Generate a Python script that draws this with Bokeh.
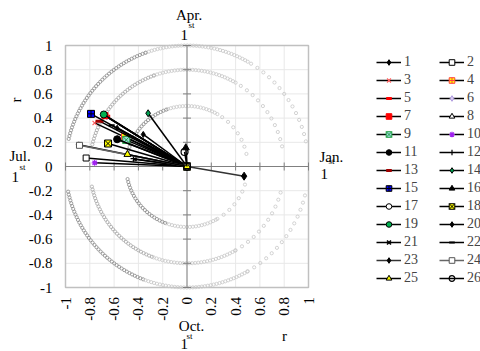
import numpy as np
from bokeh.plotting import figure
from bokeh.models import Legend, LegendItem, Range1d
from bokeh.core.properties import value
from bokeh.embed import file_html
from bokeh.resources import INLINE

# ---------------- data ----------------
series = [str(i) for i in range(1, 27)]
x_start = [0.0] * 26
y_start = [0.0] * 26
x_end = [-0.36, -0.83, -0.76, -0.51, -0.665, -0.66, -0.675, -0.57, -0.50, -0.76,
         -0.575, -0.44, -0.72, -0.32, -0.79, -0.01, -0.89, -0.65, -0.685, -0.575,
         -0.43, -0.62, 0.47, -0.885, -0.49, -0.02]
y_end = [0.265, 0.07, 0.36, 0.245, 0.415, 0.41, 0.42, 0.225, 0.22, 0.03,
         0.225, 0.065, 0.375, 0.44, 0.435, 0.155, 0.18, 0.19, 0.43, 0.32,
         0.06, 0.34, -0.08, 0.175, 0.10, 0.12]
tick_values = [-1, -0.8, -0.6, -0.4, -0.2, 0, 0.2, 0.4, 0.6, 0.8, 1]
tick_labels = ["-1", "-0.8", "-0.6", "-0.4", "-0.2", "0", "0.2", "0.4", "0.6", "0.8", "1"]
ring_radii = [0.5, 0.8, 1.0]
# arcs: start deg, end deg, spacing class, tone class
arc_start = [12, 60, 110, 192, 250, 300]
arc_end = [60, 110, 168, 250, 300, 348]
arc_dense = [False, True, True, True, True, False]
arc_dark = [False, False, True, True, False, False]

# ---------------- styles ----------------
mk = ["diamond", "square", "x", "square_cross", "dash", "diamond", "square", "triangle",
      "square_x", "asterisk", "circle", "cross", "dash", "diamond", "square_cross",
      "triangle", "circle", "square_x", "circle", "diamond", "x", "dash", "diamond",
      "square", "triangle", "circle"]
mk_size = [6, 6, 6, 7, 8, 6, 6, 6, 7, 6, 7, 6, 8, 7, 7, 7, 5, 7, 7, 5, 5, 6, 8, 6, 7, 7]
mk_fill = ["black", "white", None, "#ffff00", "red", "#d9ccf2", "red", "white",
           "#9fd8e0", None, "black", None, "#a00000", "#00a050", "#0000ff", "black",
           "white", "#ffff00", "#00b050", "black", None, None, "black", "white",
           "#ffff00", None]
mk_line = ["black", "black", "#ff6060", "#ff4040", "red", "#b09ce0", "red", "black",
           "#20a040", "#a020f0", "black", "black", "#a00000", "black", "black", "black",
           "black", "black", "black", "black", "black", "black", "black", "#555555",
           "black", "black"]
mk_lw = [1, 1, 1.2, 1, 3, 1, 1, 1, 1, 1.2, 1, 1.2, 3, 1, 1, 1, 1, 1, 1, 1, 1.6, 2, 1, 1, 1, 1.2]
ln_color = ["black"] * 22 + ["#333333", "#666666", "black", "black"]

FONT = "Liberation Serif"
W, H = 480, 351
PX_X0, PX_XS = 186.5, 121.5   # pixel of x=0, pixels per unit
PX_Y0, PX_YS = 166.0, 121.0


def dxp(px):
    return (px - PX_X0) / PX_XS


def dyp(py):
    return (PX_Y0 - py) / PX_YS


p = figure(width=W, height=H, x_range=Range1d(dxp(0), dxp(W)), y_range=Range1d(dyp(H), dyp(0)),
           output_backend="svg", toolbar_location=None,
           min_border_left=0, min_border_right=0, min_border_top=0, min_border_bottom=0,
           x_axis_location=None, y_axis_location=None)
p.background_fill_color = "white"
p.border_fill_color = "white"
p.outline_line_color = None
p.grid.visible = False

lo, hi = tick_values[0], tick_values[-1]
# grid
p.segment(x0=tick_values, y0=[lo] * 11, x1=tick_values, y1=[hi] * 11,
          line_color="#e8e8e8", line_width=1)
p.segment(x0=[lo] * 11, y0=tick_values, x1=[hi] * 11, y1=tick_values,
          line_color="#e8e8e8", line_width=1)
# frame
p.quad(left=[lo], right=[hi], bottom=[lo], top=[hi], fill_color=None,
       line_color="#c0c0c0", line_width=1.5)

# rings of small dots
for r in ring_radii:
    for a0, a1, dense, dark in zip(arc_start, arc_end, arc_dense, arc_dark):
        step_px = 3.0 if dense else 7.5
        step = np.degrees(step_px / (121.0 * r))
        ang = np.radians(np.arange(a0, a1 + 0.01, step))
        if dark:
            col = "#8c8c8c" if r != 0.8 else "#a8a8a8"
        else:
            col = "#c8c8c8"
        p.scatter(r * np.cos(ang), r * np.sin(ang), marker="circle", size=3.2,
                  fill_color=None, line_color=col, line_width=0.8)

# zero axes with ticks
p.segment(x0=[lo, 0], y0=[0, lo], x1=[hi, 0], y1=[0, hi], line_color="#808080", line_width=1)
p.scatter(tick_values, [0] * 11, marker="dash", angle=np.pi / 2, size=8,
          line_color="#808080", line_width=1)
p.scatter([0] * 11, tick_values, marker="dash", size=8, line_color="#808080", line_width=1)

# tick labels
p.text(x=[dxp(52)] * 11, y=tick_values, text=tick_labels, text_font=value(FONT),
       text_font_size="15px", text_align="right", text_baseline="middle", text_color="black")
p.text(x=tick_values, y=[dyp(296.5)] * 11, text=tick_labels, text_font=value(FONT),
       text_font_size="15px", text_align="right", text_baseline="middle", angle=np.pi / 2,
       text_color="black")

# vectors
items = []
for i, name in enumerate(series):
    lr = p.line([x_start[i], x_end[i]], [y_start[i], y_end[i]], line_color=ln_color[i],
                line_width=1.5)
    sr = p.scatter([x_start[i], x_end[i]], [y_start[i], y_end[i]], marker=mk[i],
                   size=mk_size[i], fill_color=mk_fill[i], line_color=mk_line[i],
                   line_width=mk_lw[i])
    items.append(LegendItem(label=name, renderers=[lr, sr]))

for k, xloc in ((0, 376), (1, 439)):
    lg = Legend(items=items[k::2], location=(xloc, 65), orientation="vertical",
                padding=0, margin=0, spacing=1, glyph_width=25, glyph_height=14,
                label_height=17, label_standoff=3, label_text_font=FONT,
                label_text_font_size="14px", background_fill_alpha=0,
                border_line_color=None)
    p.add_layout(lg)

# free texts: (text, px, py, size, align, angle, baseline)
txt = ["Apr.", "1", "st", "Jul.", "1", "st", "Jan.", "1", "st", "Oct.", "1", "st", "r", "r"]
tpx = [188.5, 180, 188, 9, 11, 19, 319, 320, 328, 191, 180, 186, 15.5, 284]
tpy = [14, 34, 24, 155, 176, 166, 156, 173, 160, 325, 343, 335, 99.5, 335]
tsz = ["15px", "15px", "9px"] * 4 + ["15px", "15px"]
tal = ["center", "left", "left", "left", "left", "left", "left", "left", "left",
       "center", "left", "left", "center", "center"]
tang = [0.0] * 12 + [np.pi / 2, 0.0]
tbl = ["alphabetic"] * 12 + ["middle", "alphabetic"]
for t, a, b, s, al, an, bl in zip(txt, tpx, tpy, tsz, tal, tang, tbl):
    p.text(x=[dxp(a)], y=[dyp(b)], text=[t], text_font=value(FONT), text_font_size=s,
           text_align=al, text_baseline=bl, angle=an, text_color="black")

open("out.html", "w").write(file_html(p, INLINE))
